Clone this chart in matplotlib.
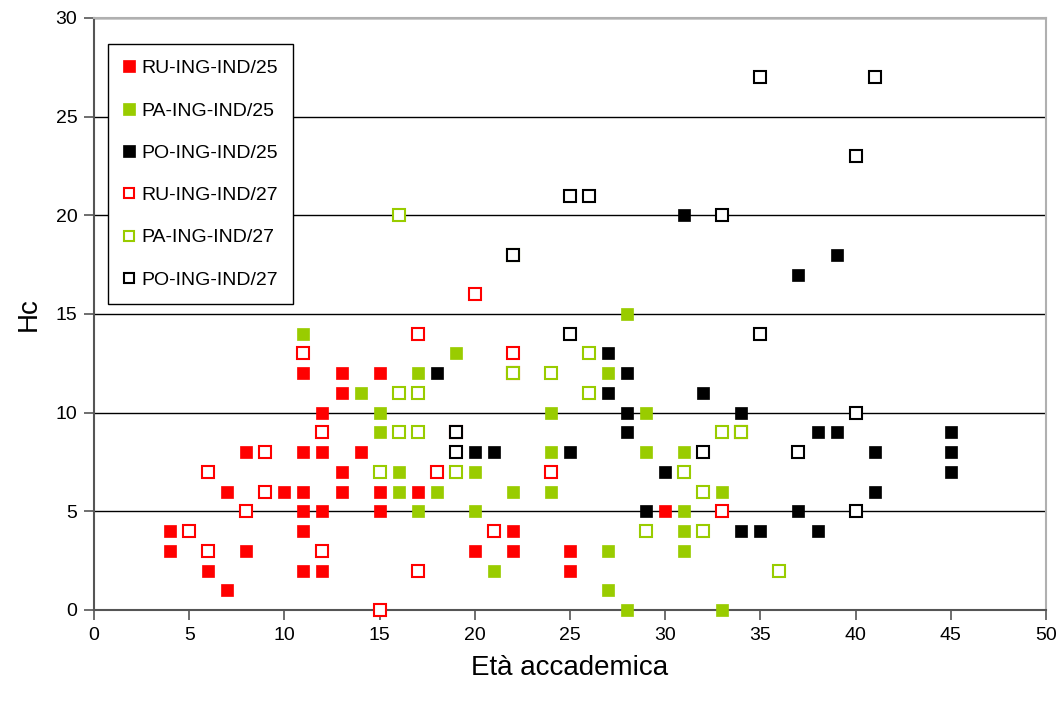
import matplotlib
matplotlib.use("Agg")
import matplotlib.pyplot as plt

plt.rcParams['font.family'] = ['Liberation Sans', 'DejaVu Sans']

labels = ["RU-ING-IND/25", "PA-ING-IND/25", "PO-ING-IND/25",
          "RU-ING-IND/27", "PA-ING-IND/27", "PO-ING-IND/27"]

ru25_x = [4, 4, 6, 7, 7, 8, 8, 10, 11, 11, 11, 11, 11, 11, 12, 12, 12, 12, 13, 13, 13, 13, 14, 15, 15, 15, 17, 20, 22, 22, 25, 25, 30]
ru25_y = [4, 3, 2, 6, 1, 8, 3, 6, 12, 8, 6, 5, 4, 2, 10, 8, 5, 2, 12, 11, 7, 6, 8, 12, 6, 5, 6, 3, 4, 3, 3, 2, 5]

pa25_x = [11, 14, 15, 15, 16, 16, 17, 17, 18, 19, 19, 20, 20, 21, 22, 24, 24, 24, 24, 27, 27, 27, 28, 28, 29, 29, 31, 31, 31, 31, 33, 33]
pa25_y = [14, 11, 10, 9, 7, 6, 12, 5, 6, 13, 8, 7, 5, 2, 6, 10, 8, 7, 6, 12, 3, 1, 15, 0, 10, 8, 8, 5, 4, 3, 6, 0]

po25_x = [18, 20, 21, 25, 27, 27, 28, 28, 28, 29, 30, 31, 32, 33, 34, 34, 35, 37, 37, 38, 38, 39, 39, 41, 41, 45, 45, 45]
po25_y = [12, 8, 8, 8, 13, 11, 12, 10, 9, 5, 7, 20, 11, 5, 10, 4, 4, 17, 5, 9, 4, 18, 9, 8, 6, 9, 8, 7]

ru27_x = [5, 6, 6, 8, 9, 9, 11, 12, 12, 15, 17, 17, 18, 19, 20, 21, 22, 22, 24, 33, 34]
ru27_y = [4, 7, 3, 5, 8, 6, 13, 9, 3, 0, 14, 2, 7, 9, 16, 4, 13, 12, 7, 5, 9]

pa27_x = [15, 16, 16, 16, 17, 17, 19, 22, 22, 24, 26, 26, 29, 31, 32, 32, 33, 34, 36]
pa27_y = [7, 20, 11, 9, 11, 9, 7, 12, 18, 12, 13, 11, 4, 7, 6, 4, 9, 9, 2]

po27_x = [19, 19, 22, 25, 25, 26, 32, 33, 35, 35, 37, 40, 40, 40, 41]
po27_y = [9, 8, 18, 21, 14, 21, 8, 20, 27, 14, 8, 23, 10, 5, 27]

red = "#ff0000"
green = "#99cc00"
black = "#000000"

series = [
    (ru25_x, ru25_y, red, red),
    (pa25_x, pa25_y, green, green),
    (po25_x, po25_y, black, black),
    (ru27_x, ru27_y, "white", red),
    (pa27_x, pa27_y, "white", green),
    (po27_x, po27_y, "white", black),
]

fig = plt.figure(figsize=(10.64, 7.06), dpi=100)
ax = fig.add_axes([94/1064, 1 - 610/706, (1046-94)/1064, (610-18)/706])

for (xs, ys, fc, ec), lab in zip(series, labels):
    filled = fc != "white"
    ax.plot(xs, ys, linestyle="none", marker="s", markersize=9.2 if filled else 8.2,
            markerfacecolor=fc, markeredgecolor=ec,
            markeredgewidth=0.5 if filled else 1.5, label=lab, clip_on=False, zorder=3)

ax.set_xlim(0, 50)
ax.set_ylim(0, 30)
ax.set_xticks(range(0, 51, 5))
ax.set_yticks(range(0, 31, 5))
ax.yaxis.grid(True, color="#000000", linewidth=1.0)
ax.set_axisbelow(True)

for s in ["top", "right"]:
    ax.spines[s].set_color("#b0b0b0")
    ax.spines[s].set_linewidth(1.5)
for s in ["left", "bottom"]:
    ax.spines[s].set_color("#555555")
    ax.spines[s].set_linewidth(1.5)

ax.tick_params(axis="both", direction="out", length=7, width=1.2, color="#555555",
               labelsize=14, pad=5)
ax.set_xlabel("Età accademica", fontsize=20, labelpad=8)
ax.set_ylabel("Hc", fontsize=20, labelpad=10)

leg = ax.legend(loc="upper left", bbox_to_anchor=(0.0147, 0.956), fontsize=14,
                frameon=True, fancybox=False, edgecolor="black", framealpha=1,
                handlelength=0.6, handletextpad=0.3, labelspacing=1.27,
                borderpad=0.8, borderaxespad=0, markerscale=0.9)
leg.get_frame().set_linewidth(1.0)

fig.savefig("out.png", dpi=100)
